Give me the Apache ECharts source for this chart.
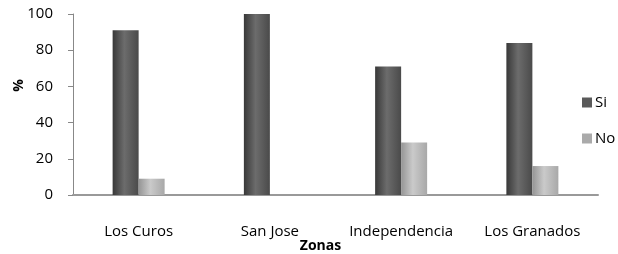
<!DOCTYPE html>
<html>
<head>
<meta charset="utf-8">
<script src="https://cdn.jsdelivr.net/npm/echarts@6/dist/echarts.min.js"></script>
<style>
  html, body { margin: 0; padding: 0; background: #fff; }
  #chart { width: 618px; height: 254px; }
</style>
</head>
<body>
<div id="chart"></div>
<script>
const zonas = ["Los Curos", "San Jose", "Independencia", "Los Granados"];
const si = [91, 100, 71, 84];
const no = [9, 0, 29, 16];
const yTicks = [0, 20, 40, 60, 80, 100];

const font = "'Open Sans', 'Liberation Sans', sans-serif";

const grad = (a, b, c) => new echarts.graphic.LinearGradient(0, 0, 1, 0, [
  { offset: 0, color: a },
  { offset: 0.45, color: b },
  { offset: 1, color: c }
]);

const chart = echarts.init(document.getElementById("chart"));
chart.setOption({
  animation: false,
  textStyle: { fontFamily: font },
  grid: { left: 73, top: 14, right: 20, bottom: 59, outerBoundsMode: "none" },
  legend: {
    orient: "vertical",
    left: 582,
    top: 95,
    padding: 0,
    itemWidth: 10,
    itemHeight: 10,
    itemGap: 21,
    icon: "rect",
    textStyle: { fontFamily: font, fontSize: 15, color: "#000", padding: [0, 0, 0, -2] },
    data: [
      { name: "Si", itemStyle: { color: "#5a5a5a" } },
      { name: "No", itemStyle: { color: "#aaaaaa" } }
    ]
  },
  xAxis: {
    type: "category",
    data: zonas,
    name: "Zonas",
    nameLocation: "middle",
    nameGap: 44,
    nameMoveOverlap: false,
    nameTextStyle: { fontFamily: font, fontSize: 14, fontWeight: "bold", color: "#000", padding: [0, 30, 0, 0] },
    axisLine: { lineStyle: { color: "#999", width: 2 } },
    axisTick: { show: false },
    axisLabel: { fontFamily: font, fontSize: 15, color: "#000", margin: 29, interval: 0 }
  },
  yAxis: {
    type: "value",
    min: yTicks[0],
    max: yTicks[yTicks.length - 1],
    interval: 20,
    name: "%",
    nameLocation: "middle",
    nameGap: 47,
    nameMoveOverlap: false,
    nameRotate: 90,
    nameTextStyle: { fontFamily: font, fontSize: 14, fontWeight: "bold", color: "#000", padding: [0, 0, 0, 38] },
    axisLine: { show: true, lineStyle: { color: "#888", width: 1 } },
    axisTick: { show: true, length: 5, lineStyle: { color: "#888" } },
    axisLabel: { fontFamily: font, fontSize: 15, color: "#000", margin: 20 },
    splitLine: { show: false }
  },
  series: [
    {
      name: "Si",
      type: "bar",
      data: si,
      barWidth: 26,
      barGap: "0%",
      itemStyle: { color: grad("#383838", "#6c6c6c", "#4a4a4a") }
    },
    {
      name: "No",
      type: "bar",
      data: no,
      barWidth: 26,
      barGap: "0%",
      itemStyle: { color: grad("#959595", "#cacaca", "#a8a8a8") }
    }
  ]
});
</script>
</body>
</html>
